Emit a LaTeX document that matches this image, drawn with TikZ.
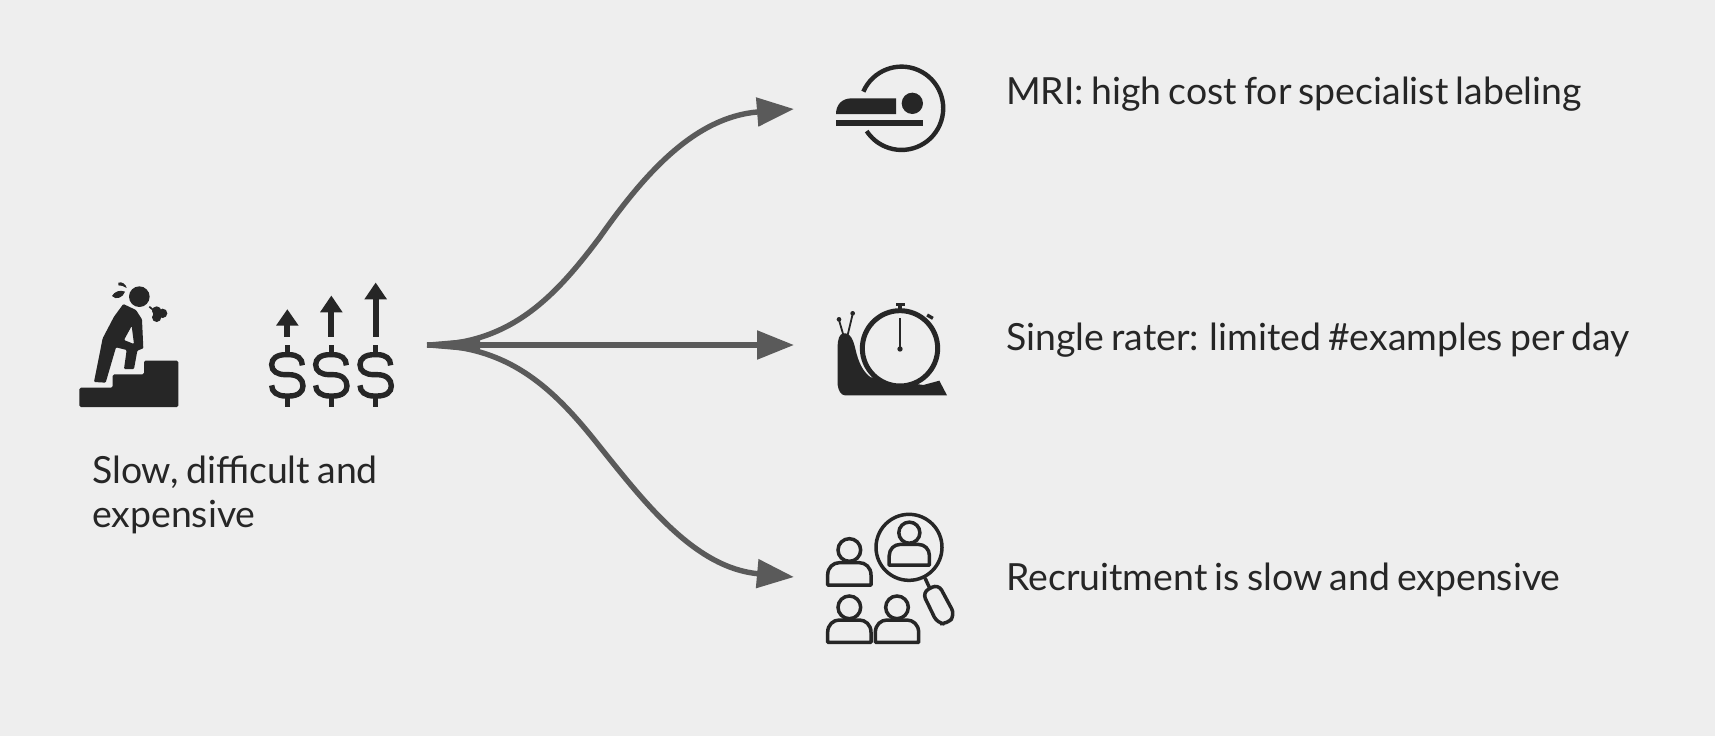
\documentclass[tikz,border=0pt]{standalone}
\usepackage{fontspec}
\setmainfont{Lato}[WordSpace=0.75]
\usetikzlibrary{arrows.meta}
\definecolor{bgc}{HTML}{EEEEEE}
\definecolor{ink}{HTML}{262626}
\definecolor{flow}{HTML}{5A5A5A}
\tikzset{
  label text/.style={anchor=base west,inner sep=0pt,text=ink,font=\fontsize{37.4}{44}\selectfont},
  flow line/.style={draw=flow,line width=5.4pt,-{Triangle[length=37pt,width=28pt]}},
  person outline/.style={draw=ink,line width=3.5pt},
  dollar/.pic={
    \draw[ink,line width=5.4pt] (45,-30) .. controls (45,-50) and (30,-62) .. (5,-62) -- (-5,-62)
      .. controls (-32,-62) and (-47,-50) .. (-47,-32) .. controls (-47,-12) and (-30,-2) .. (-5,-2) -- (5,-2)
      .. controls (32,-2) and (47,12) .. (47,32) .. controls (47,50) and (32,62) .. (5,62) -- (-5,62)
      .. controls (-30,62) and (-47,50) .. (-47,30);
    \draw[ink,line width=5.4pt] (0,-90) -- (0,-62) (0,62) -- (0,94);
  },
  roundman/.pic={
    \draw[person outline] (0,0) circle (34);
    \draw[person outline,line join=round] (-65,105) -- (-65,75) .. controls (-65,52) and (-48,38) .. (-30,38)
      -- (30,38) .. controls (48,38) and (65,52) .. (65,75) -- (65,105) -- cycle;
  },
}
\begin{document}
\begin{tikzpicture}[x=1pt,y=-1pt]
\useasboundingbox[fill=bgc] (0,0) rectangle (1715,736);

% connectors
\coordinate (src) at (427,345);
\coordinate (tipA) at (794,109);
\coordinate (tipB) at (794,345);
\coordinate (tipC) at (794,577);
\coordinate (midA) at (600,237);
\coordinate (midC) at (600,447);
\draw[flow line] (src) .. controls (510,345) and (555,297) .. (midA) .. controls (645,173) and (695,117) .. (tipA);
\draw[flow line] (src) -- (tipB);
\draw[flow line] (src) .. controls (510,345) and (555,390) .. (midC) .. controls (645,503) and (695,568) .. (tipC);
\fill[flow] (427,342.5) -- (480,338) -- (480,352) -- (427,347.5) -- cycle;

% texts
\node[label text] (txtA) at (1006,104) {MRI: high cost for specialist labeling};
\node[label text] (txtB) at (1006,350.5) {Single rater: limited \#examples per day};
\node[label text] (txtC) at (1006,590.5) {Recruitment is slow and expensive};
\node[label text] (txtS1) at (92,483) {Slow, difficult and};
\node[label text] (txtS2) at (92,527) {expensive};

% climber
\begin{scope}[shift={(60,260)},scale=1/3]
  \fill[ink,rounded corners=1.5pt] (58,441) -- (58,383) -- (158,383) -- (158,343) -- (252,343) -- (252,302) -- (355,302) -- (355,441) -- cycle;
  \fill[ink] (238,110) circle (31);
  \fill[ink,even odd rule,rounded corners=1pt] (190,132) -- (228,150) -- (246,178) -- (250,265) -- (232,272) -- (222,327) -- (192,327) -- (200,270) -- (168,262) -- (137,368) -- (102,366) -- (128,235) -- (162,170) -- cycle
    (215,198) -- (192,240) -- (222,252) -- cycle;
  \fill[ink] (156,108) .. controls (163,95) and (180,88) .. (195,95) .. controls (190,112) and (168,122) .. (156,108) -- cycle;
  \fill[ink] (175,68) .. controls (185,64) and (198,72) .. (200,84) .. controls (192,78) and (183,76) .. (175,76) -- cycle;
  \draw[ink,line width=1.7pt] (268,140) -- (282,152);
  \fill[ink] (290,153) circle (14) (308,160) circle (14) (290,172) circle (14);
\end{scope}

% rising dollars
\begin{scope}[shift={(60,260)},scale=1/3]
  \foreach \cx/\tipy/\basey in {682/148/197,814/107/157,947/68/118}{
    \fill[ink] (\cx,\tipy) -- (\cx+34,\basey) -- (\cx-34,\basey) -- cycle;
    \fill[ink] (\cx-9,\basey-1) rectangle (\cx+9,232);
    \pic[scale=1/3] at (\cx,346) {dollar};
  }
\end{scope}

% MRI icon
\begin{scope}[shift={(810,50)},scale=1/3]
  \draw[ink,line width=4.4pt] (160,125) arc[start angle=203.5,end angle=506.8,radius=125];
  \fill[ink] (307,160) circle (32);
  \fill[ink] (78,192) .. controls (78,165) and (95,145) .. (125,145) -- (258,145) -- (258,192) -- cycle;
  \fill[ink] (78,211) rectangle (340,228);
\end{scope}

% snail and stopwatch icon
\begin{scope}[shift={(810,290)},scale=1/3]
  \fill[ink] (100,130) .. controls (122,128) and (130,150) .. (137,180) .. controls (145,215) and (158,245) .. (182,262)
     -- (340,285) -- (388,272) -- (411,316) -- (105,316) .. controls (92,316) and (85,300) .. (83,285) -- (83,170) .. controls (83,148) and (88,132) .. (100,130) -- cycle;
  \fill[bgc] (270,175) circle (113);
  \draw[ink,line width=5pt] (270,175) circle (113);
  \fill[ink] (264,46) rectangle (276,62);
  \fill[ink] (257,38) rectangle (284,47);
  \fill[ink,rotate around={-30:(360,80)}] (350,75) rectangle (370,85);
  \draw[ink,line width=1.4pt] (270,85) -- (270,175);
  \fill[ink] (270,177) circle (8);
  \draw[ink,line width=1.8pt] (100,135) -- (87,90) (113,135) -- (128,72);
  \fill[ink] (87,88) circle (7) (128,70) circle (7);
\end{scope}

% people and magnifier icon
\begin{scope}[shift={(810,500)},scale=1/3]
  \pic[scale=1/3] at (118,150) {roundman};
  \pic[scale=1/3] at (118,322) {roundman};
  \pic[scale=1/3] at (261,322) {roundman};
  \draw[ink,line width=3.5pt] (297,142) circle (99);
  \pic[scale=.31] at (298,98) {roundman};
  \draw[ink,line width=3.5pt] (345,234) -- (358,262);
  \draw[ink,line width=3.5pt,rounded corners=7pt] (337,277) -- (385,252) -- (435,345) -- (412,372) -- (382,370) -- cycle;
\end{scope}
\end{tikzpicture}
\end{document}
